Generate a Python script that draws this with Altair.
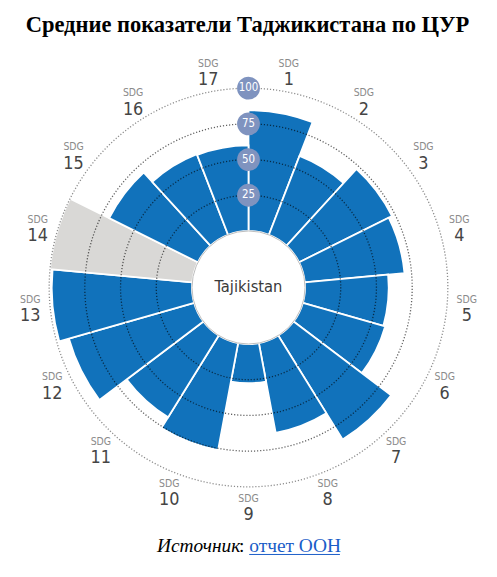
import math
import altair as alt
import pandas as pd

# ---- data ----
sdg_numbers = list(range(1, 18))
sdg_scores = [84.5, 59.3, 72.7, 70.1, 58.6, 59.9, 85.6, 63.9, 27.4, 76.2,
              67.3, 91.2, 98.2, None, 69.4, 60.5, 60.0]
ring_values = [25, 50, 75, 100]
ring_labels = ["25", "50", "75", "100"]
country = "Tajikistan"
title_text = "Средние показатели Таджикистана по ЦУР"
source_label = "Источник"
source_link = "отчет ООН"

# ---- layout ----
W, H = 485, 559
CX, CY = W / 2, H / 2
R0, R100 = 57, 201
LABEL_R = 221
BLUE = "#1172bb"
GREY = "#d9d8d6"
SANS = "DejaVu Sans Condensed, Liberation Sans Narrow, Open Sans"
SERIF = "Liberation Serif, Times New Roman, serif"

bars_df = pd.DataFrame({"sdg": sdg_numbers, "score": sdg_scores})
rings_df = pd.DataFrame({"ring": ring_values, "label": ring_labels})
one_df = pd.DataFrame({"k": [0]})

n = len(sdg_numbers)
rscale = alt.Scale(type="linear", domain=[0, 100], range=[R0, R100])
yscale = alt.Scale(type="linear", domain=[0, 100], range=[CY - R0, CY - R100])
tscale = alt.Scale(type="linear", domain=[0, n], range=[0, 2 * math.pi])

base = alt.Chart(bars_df).transform_calculate(
    t0="datum.sdg - 1",
    t1="datum.sdg",
    tm="datum.sdg - 0.5",
    r="isValid(datum.score) ? datum.score : 100",
    status="isValid(datum.score) ? 'ok' : 'na'",
    top="'SDG'",
)

bars = base.mark_arc(innerRadius=R0, stroke="white", strokeWidth=1.8).encode(
    theta=alt.Theta("t0:Q", scale=tscale, stack=False),
    theta2="t1:Q",
    radius=alt.Radius("r:Q", scale=rscale, stack=False),
    color=alt.Color("status:N", scale=alt.Scale(domain=["ok", "na"], range=[BLUE, GREY]), legend=None),
)

rings = alt.Chart(rings_df).mark_arc(
    filled=False, theta=0, theta2=2 * math.pi, innerRadius=0,
    strokeDash=[1.2, 1.9], strokeWidth=1.3, color="black",
).encode(
    radius=alt.Radius("ring:Q", scale=rscale, stack=False),
    strokeOpacity=alt.condition(alt.datum.ring == 100, alt.value(0.45), alt.value(0.62)),
)

hole = alt.Chart(one_df).mark_arc(
    theta=0, theta2=2 * math.pi, innerRadius=0, fill="white", stroke="#bdbdbd", strokeWidth=1
).encode(radius=alt.value(R0))

ring_pts = alt.Chart(rings_df).mark_point(
    shape="circle", filled=True, size=(2 * 11.5) ** 2, opacity=1, color="#7f93bf"
).encode(x=alt.value(CX), y=alt.Y("ring:Q", scale=yscale, axis=None))

ring_txt = alt.Chart(rings_df).mark_text(
    color="white", fontSize=11.5, font=SANS, baseline="middle", align="center"
).encode(x=alt.value(CX), y=alt.Y("ring:Q", scale=yscale, axis=None), text="label:N")

lab_top = base.mark_text(radius=LABEL_R, dy=-8, fontSize=10.5, color="#8a8a8a", font=SANS).encode(
    theta=alt.Theta("tm:Q", scale=tscale, stack=False), text="top:N"
)
lab_num = base.mark_text(radius=LABEL_R, dy=8.5, fontSize=18, color="#454545", font=SANS).encode(
    theta=alt.Theta("tm:Q", scale=tscale, stack=False), text="sdg:N"
)

center_txt = alt.Chart(one_df).transform_calculate(t=f"'{country}'").mark_text(
    fontSize=16.5, color="#3a3a3a", font=SANS, baseline="middle"
).encode(x=alt.value(CX), y=alt.value(CY), text="t:N")

title = alt.Chart(one_df).transform_calculate(t=f"'{title_text}'").mark_text(
    fontSize=22.7, fontWeight="bold", font=SERIF, color="black", baseline="alphabetic", align="center"
).encode(x=alt.value(241.5), y=alt.value(21.5), text="t:N")

src1 = alt.Chart(one_df).transform_calculate(t=f"'{source_label}'").mark_text(
    fontSize=19.5, fontStyle="italic", font=SERIF, color="black", baseline="alphabetic", align="left"
).encode(x=alt.value(150.3), y=alt.value(546.5), text="t:N")
src2 = alt.Chart(one_df).transform_calculate(t="':'").mark_text(
    fontSize=19.5, font=SERIF, color="black", baseline="alphabetic", align="left"
).encode(x=alt.value(233.0), y=alt.value(546.5), text="t:N")
src3 = alt.Chart(one_df).transform_calculate(t=f"'{source_link}'").mark_text(
    fontSize=19.6, font=SERIF, color="#1a5dc8", baseline="alphabetic", align="left"
).encode(x=alt.value(243.2), y=alt.value(546.5), text="t:N")
underline = alt.Chart(one_df).mark_rule(color="#1a5dc8", strokeWidth=1).encode(
    x=alt.value(243.2), x2=alt.value(334.7), y=alt.value(548.7)
)

chart = alt.layer(
    bars, rings, hole, ring_pts, ring_txt, lab_top, lab_num, center_txt,
    title, src1, src2, src3, underline,
).properties(
    width=W, height=H, padding=0, autosize=alt.AutoSizeParams(type="none")
).configure_view(stroke=None)

chart.save("out.html", embed_options={"renderer": "svg", "actions": False})
